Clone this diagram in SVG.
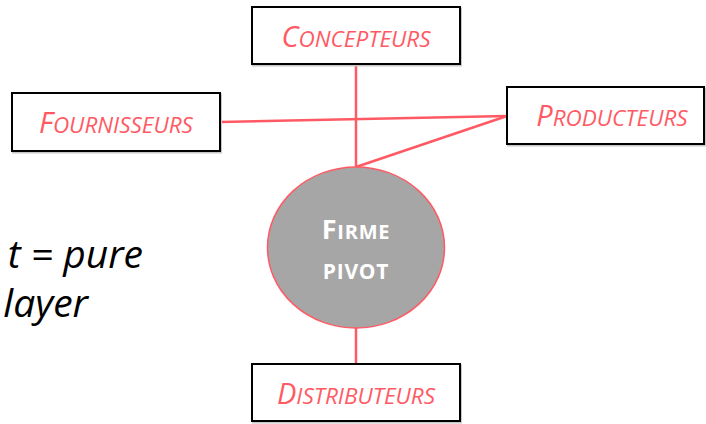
<svg xmlns="http://www.w3.org/2000/svg" width="706" height="424" viewBox="0 0 706 424">
  <style>
    .box { fill: #ffffff; stroke: #000000; stroke-width: 2; }
    .shadow { fill: none; stroke: #c8c8c8; stroke-width: 2; }
    .lbl { font-family: "Open Sans", "Liberation Sans", sans-serif; font-style: italic; fill: #ff5a64; text-anchor: middle; }
    .cap { font-size: 29px; }
    .sc { font-size: 22.5px; }
    .link { fill: none; stroke: #ff5a64; stroke-width: 2.5; }
    .hub { fill: #a6a6a6; stroke: #ff5a64; stroke-width: 1.5; }
    .hubtxt { font-family: "Open Sans", "Liberation Sans", sans-serif; font-weight: bold; fill: #ffffff; text-anchor: middle; letter-spacing: 0.8px; }
    .side { font-family: "Open Sans", "Liberation Sans", sans-serif; font-style: italic; font-size: 39px; fill: #000000; text-anchor: end; }
  </style>

  <rect width="706" height="424" fill="#ffffff"/>

  <!-- side caption, partly outside the frame -->
  <text class="side" x="143" y="268">t = pure</text>
  <text class="side" x="88" y="317">layer</text>

  <!-- links between the pivot firm and its partners -->
  <g id="connectors">
    <path class="link" d="M356,64 V167"/>
    <path class="link" d="M220,122 L507,116"/>
    <path class="link" d="M507,116 L356,167"/>
    <path class="link" d="M356,328 V364"/>
  </g>

  <g id="concepteurs">
    <rect class="shadow" x="253" y="8.5" width="208" height="57"/>
    <rect class="box" x="252" y="7" width="208" height="57"/>
    <text class="lbl" x="356" y="47"><tspan class="cap">C</tspan><tspan class="sc">ONCEPTEURS</tspan></text>
  </g>

  <g id="fournisseurs">
    <rect class="shadow" x="13" y="94.5" width="208" height="58"/>
    <rect class="box" x="12" y="93" width="208" height="58"/>
    <text class="lbl" x="116" y="133"><tspan class="cap">F</tspan><tspan class="sc">OURNISSEURS</tspan></text>
  </g>

  <g id="producteurs">
    <rect class="shadow" x="508" y="88.5" width="197" height="57"/>
    <rect class="box" x="507" y="87" width="197" height="57"/>
    <text class="lbl" x="612" y="126"><tspan class="cap">P</tspan><tspan class="sc">RODUCTEURS</tspan></text>
  </g>

  <g id="distributeurs">
    <rect class="shadow" x="253" y="365.5" width="208" height="57"/>
    <rect class="box" x="252" y="364" width="208" height="57"/>
    <text class="lbl" x="356" y="404"><tspan class="cap">D</tspan><tspan class="sc">ISTRIBUTEURS</tspan></text>
  </g>

  <g id="firme-pivot">
    <ellipse class="hub" cx="356" cy="247.5" rx="88.5" ry="80.5"/>
    <text class="hubtxt" x="356" y="239"><tspan font-size="27">F</tspan><tspan font-size="20">IRME</tspan></text>
    <text class="hubtxt" x="356" y="279" font-size="21">PIVOT</text>
  </g>
</svg>
